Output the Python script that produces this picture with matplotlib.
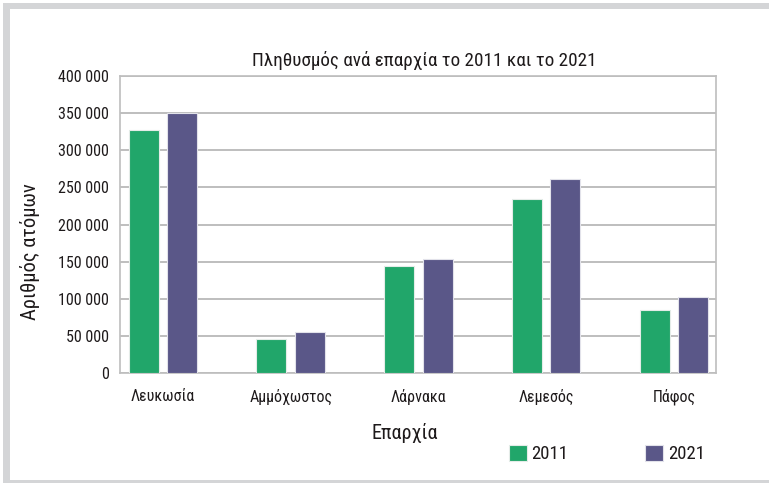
import matplotlib
matplotlib.use("Agg")
import matplotlib.pyplot as plt
from matplotlib.patches import Rectangle
from matplotlib import font_manager
from matplotlib.ft2font import FT2Font
import numpy as np

categories = ["Λευκωσία", "Αμμόχωστος", "Λάρνακα", "Λεμεσός", "Πάφος"]
series_labels = ["2011", "2021"]
values_2011 = [327000, 45700, 144200, 234700, 85000]
values_2021 = [349500, 55500, 154000, 261600, 103000]
yticks = [0, 50000, 100000, 150000, 200000, 250000, 300000, 350000, 400000]
ytick_labels = ["0", "50 000", "100 000", "150 000", "200 000", "250 000",
                "300 000", "350 000", "400 000"]
title = "Πληθυσμός ανά επαρχία το 2011 και το 2021"
xlabel = "Επαρχία"
ylabel = "Αριθμός ατόμων"

# pick a condensed family that has Greek glyphs
fl = font_manager.fontManager.ttflist
greek_ok = {}
for f in fl:
    if f.stretch == "normal" and not any(k in f.name for k in ("Narrow", "Condensed", "Cond")):
        continue
    if f.style != "normal":
        continue
    try:
        cm = FT2Font(f.fname).get_charmap()
        if ord("λ") in cm and ord("ώ") in cm:
            greek_ok.setdefault(f.name, f.stretch)
    except Exception:
        pass
prefs = ["Roboto Condensed", "Liberation Sans Narrow", "Open Sans Condensed",
         "Fira Sans Condensed", "DejaVu Sans"]
chosen = None
for p in prefs:
    if p in greek_ok:
        chosen = p
        break
if chosen is None and greek_ok:
    chosen = sorted(greek_ok)[0]
if chosen:
    plt.rcParams['font.family'] = [chosen, "DejaVu Sans"]
    plt.rcParams['font.stretch'] = greek_ok[chosen]
else:
    plt.rcParams['font.family'] = ["DejaVu Sans"]
    plt.rcParams['font.stretch'] = "condensed"

GREEN = "#21A66A"
PURPLE = "#5A5788"
GRID = "#BEBEBE"
TXT = "#1E1A1B"

W, H = 769, 486
fig = plt.figure(figsize=(W / 100, H / 100), dpi=100)
fig.patch.set_facecolor("white")
# frame
fig.add_artist(Rectangle((3 / W, 1 - 483 / H), 1, 480 / H, transform=fig.transFigure,
                         facecolor="#D4D5D7", edgecolor="none", zorder=-2))
fig.add_artist(Rectangle((10 / W, 1 - 480 / H), 1, 471 / H, transform=fig.transFigure,
                         facecolor="white", edgecolor="none", zorder=-1))

ax = fig.add_axes([120 / W, 1 - 373.3 / H, 596 / W, 297.6 / H])
ax.set_zorder(2)
ax.set_facecolor("white")
x = np.arange(len(categories))
bw = 0.235
off = 0.151
ax.bar(x - off, values_2011, bw, color=GREEN, edgecolor="#E4ECE8", linewidth=0.8,
       label=series_labels[0], zorder=3)
ax.bar(x + off, values_2021, bw, color=PURPLE, edgecolor="#E2E2EA", linewidth=0.8,
       label=series_labels[1], zorder=3)

ax.set_xlim(-0.337, 4.33)
ax.set_ylim(0, 400000)
ax.set_yticks(yticks)
ax.set_yticklabels(ytick_labels)
ax.set_xticks(x)
ax.set_xticklabels(categories)
ax.tick_params(axis="both", length=0, labelsize=11.5, colors=TXT)
ax.tick_params(axis="y", pad=8)
ax.tick_params(axis="x", pad=11)
ax.grid(axis="y", color=GRID, linewidth=1.4, zorder=1)
for s in ax.spines.values():
    s.set_color(GRID)
    s.set_linewidth(1.2)

t = ax.set_title(title, fontsize=13.8, color=TXT, pad=7)
t.set_x(0.51)
ax.set_xlabel(xlabel, fontsize=14.5, color=TXT)
ax.xaxis.set_label_coords(0.478, -0.168)
ax.set_ylabel(ylabel, fontsize=14.8, color=TXT)
ax.yaxis.set_label_coords(-0.134, 0.408)

handles, labels = ax.get_legend_handles_labels()
fig.legend(handles, labels, loc="center", bbox_to_anchor=(607 / W, 1 - 454 / H), ncol=2,
           frameon=False, fontsize=13.5, handlelength=0.96, handleheight=0.96,
           handletextpad=0.27, columnspacing=4.1, labelcolor=TXT, borderpad=0)

fig.savefig("out.png", dpi=100)
